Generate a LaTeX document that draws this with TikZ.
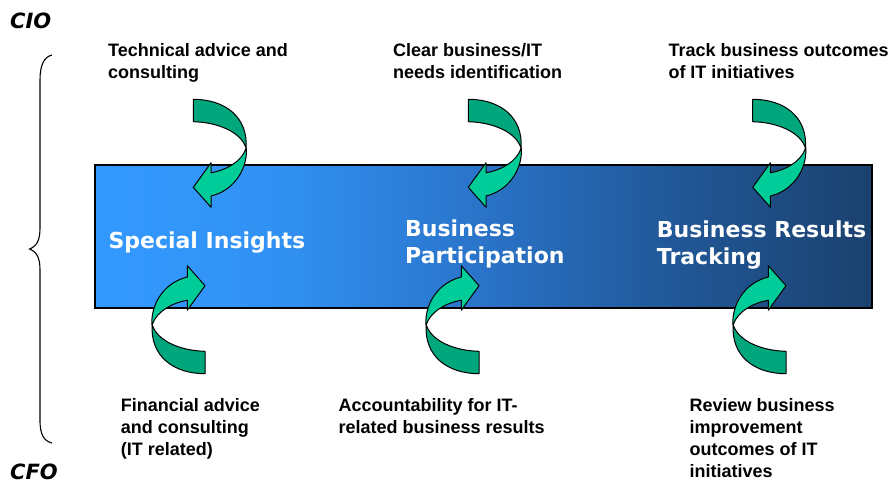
\documentclass[tikz,border=0pt]{standalone}
\usepackage{fontspec}
\newfontfamily\labelfont{Liberation Sans}
\newfontfamily\bandfont{DejaVu Sans}

% colours of the band gradient and of the twisted arrows
\definecolor{bandA}{RGB}{51,153,255}
\definecolor{bandB}{RGB}{49,145,242}
\definecolor{bandC}{RGB}{42,115,200}
\definecolor{bandD}{RGB}{33,88,152}
\definecolor{bandE}{RGB}{27,65,110}
\definecolor{arrowback}{RGB}{0,166,124}
\definecolor{arrowfront}{RGB}{0,204,153}

\pgfdeclarehorizontalshading{bandshade}{100bp}{%
  color(0bp)=(bandA); color(25bp)=(bandA); color(37bp)=(bandB);
  color(50bp)=(bandC); color(62bp)=(bandD); color(75bp)=(bandE);
  color(100bp)=(bandE)}

\tikzset{
  lab/.style={anchor=north west, inner sep=0pt, align=left,
    font=\labelfont\bfseries\fontsize{18}{22}\selectfont},
  bandlab/.style={anchor=north west, inner sep=0pt, align=left, text=white,
    font=\bandfont\bfseries\fontsize{22}{26.5}\selectfont},
  role/.style={anchor=base west, inner sep=0pt,
    font=\bandfont\bfseries\itshape\fontsize{21}{24}\selectfont},
  % twisted U-turn arrow, origin at the arrow tip
  uturn/.pic={
    \filldraw[fill=arrowback, draw=black, line width=1pt, line join=round]
      (0,-88) -- (0,-65.6)
      .. controls (25,-65) and (48,-55) .. (52.8,-39)
      .. controls (55,-70) and (32,-88) .. cycle;
    \filldraw[fill=arrowfront, draw=black, line width=1pt, line join=round]
      (52.8,-39) .. controls (48,-25) and (32,-17) .. (17.7,-14.5)
      -- (17.7,-24.5) -- (0,0) -- (17.7,20) -- (17.7,8.7)
      .. controls (38,4) and (54,-15) .. (53.2,-39) -- cycle;
  }
}

\begin{document}
\begin{tikzpicture}[x=1pt,y=-1pt]
\useasboundingbox (0,0) rectangle (893,479);

% the gradient band
\node[draw=black, line width=1.5pt, shading=bandshade, shading angle=0,
      minimum width=777pt, minimum height=143pt, inner sep=0pt]
  (band) at (483.5,236.5) {};

% brace joining the two roles
\draw[line width=1.1pt]
  (52,55) .. controls (44,57) and (40,65) .. (40,80) -- (40,228)
  .. controls (40,240) and (37,246) .. (29.5,249)
  .. controls (37,252) and (40,258) .. (40,270) -- (40,420)
  .. controls (40,435) and (44,441) .. (52,443);

% arrows entering the band from above (CIO side)
\pic (up1) at (193.3,187.3) {uturn};
\pic (up2) at (468.3,187.3) {uturn};
\pic (up3) at (752.7,187.3) {uturn};
% arrows entering the band from below (CFO side)
\pic[rotate=180] (dn1) at (205,285.7) {uturn};
\pic[rotate=180] (dn2) at (479,285.7) {uturn};
\pic[rotate=180] (dn3) at (786,285.7) {uturn};

% roles
\node[role] (cio) at (10,28) {CIO};
\node[role] (cfo) at (10,479) {CFO};

% stages inside the band
\node[bandlab] (special) at (108.3,231.6) {Special Insights};
\node[bandlab] (partic) at (405,220) {Business\\Participation};
\node[bandlab] (results) at (656.7,220.6) {Business Results\\Tracking};

% CIO contributions
\node[lab] (tech) at (108,43) {Technical advice and\\consulting};
\node[lab] (needs) at (393,43) {Clear business/IT\\needs identification};
\node[lab] (track) at (668.3,43) {Track business outcomes\\of IT initiatives};

% CFO contributions
\node[lab] (fin) at (120.7,398.6) {Financial advice\\and consulting\\(IT related)};
\node[lab] (acc) at (338.3,398.6) {Accountability for IT-\\related business results};
\node[lab] (rev) at (689.3,398.6) {Review business\\improvement\\outcomes of IT\\initiatives};
\end{tikzpicture}
\end{document}
